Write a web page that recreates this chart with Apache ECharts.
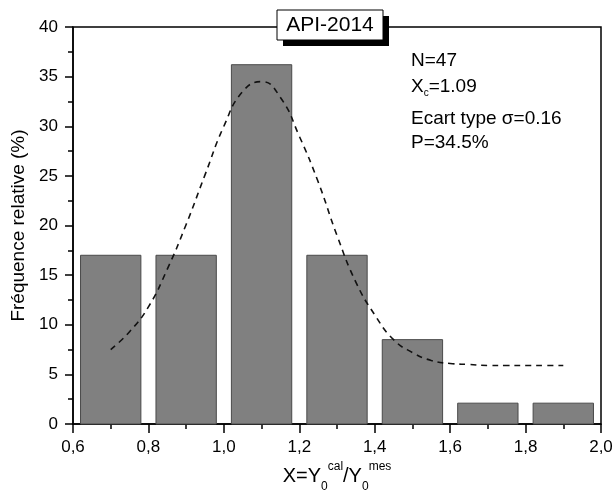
<!DOCTYPE html>
<html>
<head>
<meta charset="utf-8">
<script src="https://cdn.jsdelivr.net/npm/echarts@6/dist/echarts.min.js"></script>
<style>
  html, body { margin: 0; padding: 0; background: #fff; }
  #main { width: 613px; height: 492px; }
</style>
</head>
<body>
<div id="main"></div>
<script>
// histogram bins (lower / upper edge) and relative frequency (%)
const binLo = [0.62, 0.82, 1.02, 1.22, 1.42, 1.62, 1.82];
const binHi = [0.78, 0.98, 1.18, 1.38, 1.58, 1.78, 1.98];
const freq = [17.0, 17.0, 36.2, 17.0, 8.5, 2.1, 2.1];

// fitted curve
const fitX = [0.70, 0.75, 0.80, 0.85, 0.90, 0.95, 1.00, 1.05, 1.10, 1.15, 1.20, 1.25, 1.30,
  1.35, 1.40, 1.45, 1.50, 1.55, 1.60, 1.65, 1.70, 1.75, 1.80, 1.85, 1.90];
const fitY = [7.5, 9.3, 11.8, 15.6, 20.1, 25.1, 30.0, 33.5, 34.5, 32.9, 29.0, 24.4, 19.0,
  14.3, 11.0, 8.5, 7.2, 6.4, 6.1, 6.0, 5.9, 5.9, 5.9, 5.9, 5.9];

const titleText = 'API-2014';
const statLines = ['N=47', 'X{sub|c}=1.09', 'Ecart type σ=0.16', 'P=34.5%'];

const FONT = 'Liberation Sans, Arial, sans-serif';
const chart = echarts.init(document.getElementById('main'));

let barData = [];
for (let i = 0; i < freq.length; i++) {
  barData.push([binLo[i], binHi[i], freq[i]]);
}
let fitData = fitX.map((x, i) => [x, fitY[i]]);

const statTops = [51, 77, 109, 133];

// title box with a hard black shadow
let graphics = [
  { type: 'rect', shape: { x: 283, y: 16, width: 106, height: 30 }, style: { fill: '#000' }, z: 10 },
  { type: 'rect', shape: { x: 277, y: 10, width: 106, height: 30 }, style: { fill: '#fff', stroke: '#000', lineWidth: 1 }, z: 11 },
  {
    type: 'text', x: 330, y: 25, z: 12,
    style: { text: titleText, fontFamily: FONT, fontSize: 21, fill: '#000', align: 'center', verticalAlign: 'middle' }
  }
];
statLines.forEach((t, i) => {
  graphics.push({
    type: 'text',
    left: 411,
    top: statTops[i],
    z: 10,
    style: {
      text: t,
      fontFamily: FONT,
      fontSize: 19,
      fill: '#000',
      rich: {
        sub: { fontFamily: FONT, fontSize: 10, padding: [14, 0, 0, 0], fill: '#000' }
      }
    }
  });
});

const option = {
  animation: false,
  grid: {
    left: 73,
    right: 12,
    top: 27,
    bottom: 68,
    outerBoundsMode: 'none',
    containLabel: false,
    show: true,
    borderColor: '#000',
    borderWidth: 1.5,
    backgroundColor: 'transparent'
  },
  xAxis: {
    type: 'value',
    min: 0.6,
    max: 2.0,
    interval: 0.2,
    name: 'X=Y{sub|0}{sup|cal}/Y{sub|0}{sup|mes}',
    nameLocation: 'middle',
    nameGap: 36,
    nameTextStyle: {
      fontFamily: FONT, fontSize: 20, color: '#000', lineHeight: 32,
      rich: {
        sub: { fontFamily: FONT, fontSize: 12, verticalAlign: 'bottom', lineHeight: 32, color: '#000' },
        sup: { fontFamily: FONT, fontSize: 12, verticalAlign: 'top', lineHeight: 32, color: '#000' }
      }
    },
    axisLine: { lineStyle: { color: '#000', width: 1.5 } },
    axisTick: { show: true, inside: false, length: 9, lineStyle: { color: '#000', width: 1.5 } },
    minorTick: { show: true, splitNumber: 2, length: 5, lineStyle: { color: '#000', width: 1.5 } },
    splitLine: { show: false },
    axisLabel: {
      fontFamily: FONT, fontSize: 17, color: '#000', margin: 15,
      formatter: v => v.toFixed(1).replace('.', ',')
    }
  },
  yAxis: {
    type: 'value',
    min: 0,
    max: 40,
    interval: 5,
    name: 'Fréquence relative (%)',
    nameLocation: 'middle',
    nameRotate: 90,
    nameGap: 31,
    nameTextStyle: { fontFamily: FONT, fontSize: 19, color: '#000' },
    axisLine: { show: true, lineStyle: { color: '#000', width: 1.5 } },
    axisTick: { show: true, inside: false, length: 8, lineStyle: { color: '#000', width: 1.5 } },
    minorTick: { show: true, splitNumber: 2, length: 5, lineStyle: { color: '#000', width: 1.5 } },
    splitLine: { show: false },
    axisLabel: { fontFamily: FONT, fontSize: 17, color: '#000', margin: 15 }
  },
  series: [
    {
      type: 'custom',
      data: barData,
      encode: { x: [0, 1], y: 2 },
      renderItem: function (params, api) {
        const lo = api.coord([api.value(0), api.value(2)]);
        const hi = api.coord([api.value(1), 0]);
        return {
          type: 'rect',
          shape: { x: lo[0], y: lo[1], width: hi[0] - lo[0], height: hi[1] - lo[1] },
          style: { fill: '#808080', stroke: '#4a4a4a', lineWidth: 1 }
        };
      },
      z: 2
    },
    {
      type: 'line',
      data: fitData,
      smooth: true,
      showSymbol: false,
      lineStyle: { color: '#111', width: 1.6, type: [6, 5] },
      z: 3
    }
  ],
  graphic: graphics
};

chart.setOption(option);
</script>
</body>
</html>
